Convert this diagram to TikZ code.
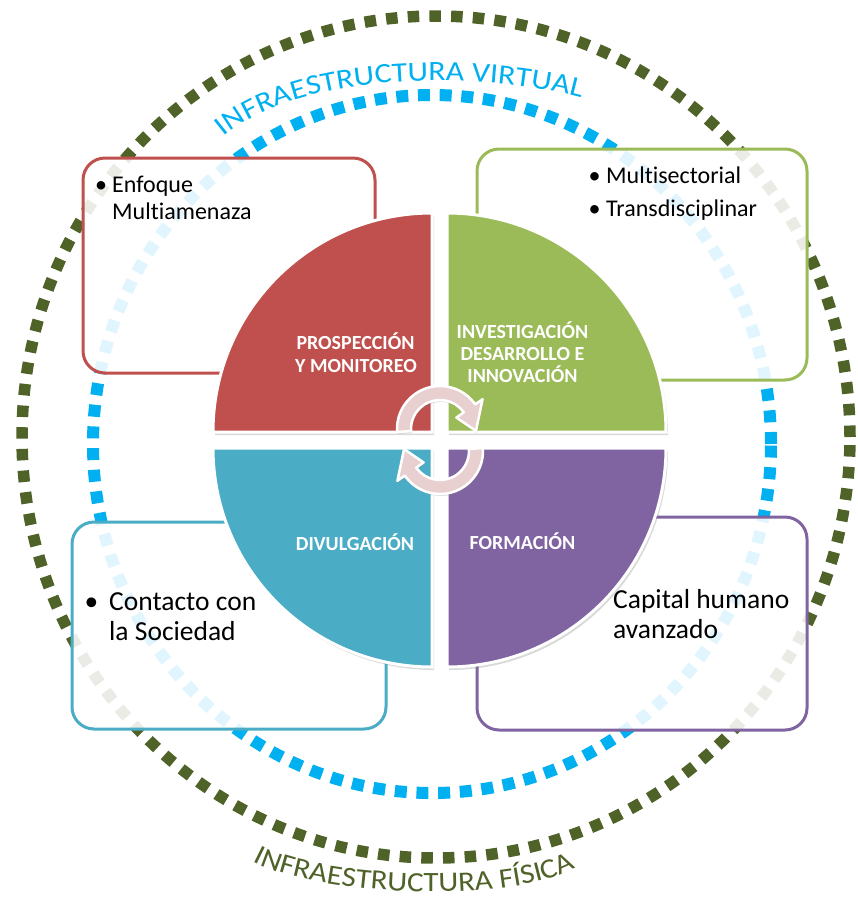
\documentclass[tikz,border=0pt]{standalone}
\usepackage{fontspec}
\setmainfont{Carlito}[Ligatures={NoCommon}]
\newfontfamily\virtfont[FakeStretch=1.14]{Carlito}
\newfontfamily\fisfont[FakeStretch=1.11]{Carlito}
\usepackage{tikz}
\usetikzlibrary{calc, decorations.text, shadows}
\definecolor{prosred}{HTML}{C0504D}
\definecolor{invgreen}{HTML}{9BBB59}
\definecolor{divblue}{HTML}{4BACC6}
\definecolor{forpurple}{HTML}{8064A2}
\definecolor{virtblue}{HTML}{00B0F0}
\definecolor{fisgreen}{HTML}{4F6228}
\definecolor{cyclepink}{HTML}{E8D0D0}
\tikzset{
  infobox/.style={line width=3pt, rounded corners=22pt, fill=white, fill opacity=0.88},
  quarter/.style={draw=white, line width=3pt, drop shadow={opacity=0.3, shadow xshift=2pt, shadow yshift=-3pt}},
  cyclearrow/.style={draw=white, line width=2.5pt, fill=cyclepink, line join=round,
    drop shadow={opacity=0.25, shadow xshift=1pt, shadow yshift=-2pt}},
  smalltext/.style={inner sep=0pt, font=\fontsize{24}{27}\selectfont},
  bigtext/.style={inner sep=0pt, font=\fontsize{27.5}{31}\selectfont},
  pietext/.style={inner sep=0pt, text=white, font=\fontsize{20}{23}\selectfont\bfseries, anchor=base}
}

\begin{document}
\begin{tikzpicture}[x=1pt, y=1pt]
  \useasboundingbox (0,0) rectangle (857,-905);
  \draw[fisgreen, line width=11.5pt, dash pattern=on 11.5pt off 10.2pt] (436,-437) ellipse [x radius=414, y radius=421];
  \draw[virtblue, line width=12pt, dash pattern=on 12pt off 9.7pt] (432,-444) ellipse [x radius=339, y radius=349];
  \path[decorate, decoration={text along path, text align=center,
      text={|\virtfont\fontsize{28}{28}\selectfont\color{virtblue}|INFRAESTRUCTURA VIRTUAL}}]
    (223,-137) .. controls (301.5,-69.8) and (482,-71.2) .. (582,-98);
  \path[decorate, decoration={text along path, text align=center,
      text={|\fisfont\fontsize{28}{28}\selectfont\color{fisgreen}|INFRAESTRUCTURA FÍSICA}}]
    (250,-860) .. controls (313,-896.5) and (516,-905.6) .. (578,-866);

  \draw[infobox, draw=prosred] (83,-158) rectangle (375,-373);
  \draw[infobox, draw=invgreen] (477,-149) rectangle (807,-380);
  \draw[infobox, draw=divblue] (72,-522) rectangle (386,-729);
  \draw[infobox, draw=forpurple] (477,-517) rectangle (807,-730);

  \node[smalltext, anchor=base] (bulenf) at (101,-192) {•};
  \node[smalltext, anchor=base west] (enf1) at (112,-192) {Enfoque};
  \node[smalltext, anchor=base west] (enf2) at (112,-219) {Multiamenaza};
  \node[smalltext, anchor=base] (bulmul) at (594.5,-183) {•};
  \node[smalltext, anchor=base west] (mul) at (606,-183) {Multisectorial};
  \node[smalltext, anchor=base] (bultra) at (594.5,-216) {•};
  \node[smalltext, anchor=base west] (tra) at (606,-216) {Transdisciplinar};
  \node[bigtext, anchor=base] (bulcon) at (91.5,-610) {•};
  \node[bigtext, anchor=base west] (con1) at (109,-610) {Contacto con};
  \node[bigtext, anchor=base west] (con2) at (109,-640) {la Sociedad};
  \node[bigtext, anchor=base west] (cap1) at (613,-608) {Capital humano};
  \node[bigtext, anchor=base west] (cap2) at (613,-638) {avanzado};

  \foreach \cx/\cy/\a/\col in {432/432/90/prosred, 447/432/0/invgreen, 432/448/180/divblue, 447/448/270/forpurple}
    \draw[quarter, fill=\col] (\cx,-\cy) -- ++(\a:219) arc[start angle=\a, end angle=\a+90, radius=219] -- cycle;

  \node[pietext] (pros1) at (355.5,-349) {PROSPECCIÓN};
  \node[pietext] (pros2) at (356,-372) {Y MONITOREO};
  \node[pietext] (inv1) at (522.5,-338) {INVESTIGACIÓN};
  \node[pietext] (inv2) at (522.5,-360) {DESARROLLO E};
  \node[pietext] (inv3) at (522.5,-382) {INNOVACIÓN};
  \node[pietext] (div) at (355,-550) {DIVULGACIÓN};
  \node[pietext] (for) at (522.5,-549) {FORMACIÓN};

  \coordinate (ctop) at (440,-429);
  \coordinate (cbot) at (440,-451);
  \draw[cyclearrow, shift={(ctop)}] (184:43) arc[start angle=184, end angle=35, radius=43]
    -- (35:52) -- (-3:36) -- (35:20) -- (35:29) arc[start angle=35, end angle=184, radius=29] -- cycle;
  \draw[cyclearrow, shift={(cbot)}] (4:43) arc[start angle=4, end angle=-145, radius=43]
    -- (-145:52) -- (-183:36) -- (-145:20) -- (-145:29) arc[start angle=-145, end angle=4, radius=29] -- cycle;
\end{tikzpicture}
\end{document}
